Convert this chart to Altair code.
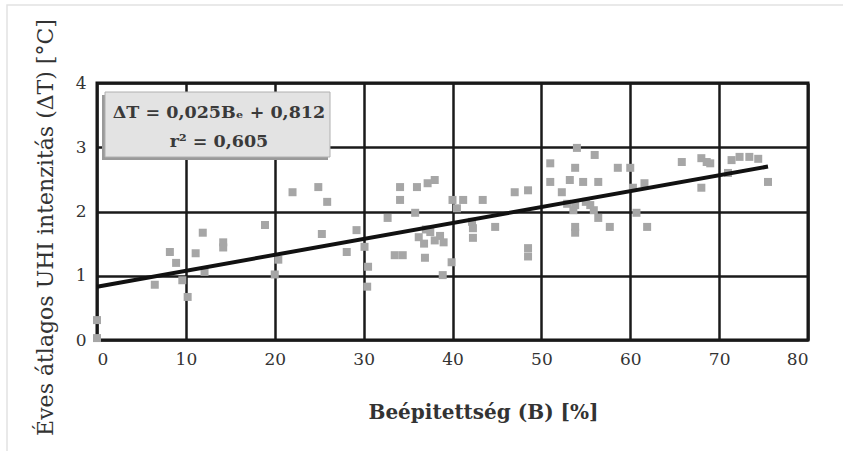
import altair as alt
import pandas as pd

# Scatter data: built-up ratio B [%] and annual mean UHI intensity dT [°C]
b_values = [0, 0, 6.5, 8.2, 8.9, 9.6, 10.2, 11.1, 11.9, 12.1, 14.2, 14.2, 18.9, 20.4, 20.0,
            22.0, 24.9, 25.9, 25.3, 28.1, 29.2, 30.1, 30.5, 30.4, 33.5, 34.4, 32.7, 34.1, 34.1,
            36.0, 37.2, 38.0, 35.8, 36.2, 36.8, 37.5, 38.0, 38.6, 37.0, 39.0, 36.9, 38.9, 39.9,
            40.0, 41.2, 40.5, 42.2, 42.3, 42.3, 43.4, 44.8, 47.0, 48.5, 48.5, 48.5, 51.0, 51.0,
            54.0, 56.0, 53.8, 53.2, 54.7, 56.4, 52.3, 52.9, 53.8, 55.0, 55.5, 53.6, 55.9, 53.8,
            53.8, 56.4, 57.7, 58.6, 60.0, 60.7, 61.9, 60.3, 61.6, 65.8, 68.0, 68.6, 69.0, 68.0,
            71.0, 71.4, 72.3, 73.4, 74.4, 75.5]
dt_values = [0.31, 0.03, 0.86, 1.37, 1.20, 0.93, 0.67, 1.35, 1.67, 1.06, 1.52, 1.44, 1.79, 1.25, 1.02,
             2.30, 2.38, 2.15, 1.65, 1.37, 1.71, 1.45, 1.14, 0.83, 1.32, 1.32, 1.90, 2.38, 2.18,
             2.38, 2.44, 2.49, 1.98, 1.60, 1.50, 1.68, 1.55, 1.62, 1.72, 1.52, 1.28, 1.01, 1.21,
             2.18, 2.18, 2.05, 1.84, 1.74, 1.59, 2.18, 1.76, 2.30, 2.33, 1.43, 1.30, 2.75, 2.46,
             2.99, 2.88, 2.68, 2.49, 2.46, 2.46, 2.30, 2.12, 2.10, 2.15, 2.10, 2.02, 2.02, 1.76,
             1.67, 1.90, 1.76, 2.68, 2.68, 1.98, 1.76, 2.37, 2.44, 2.77, 2.83, 2.77, 2.75, 2.37,
             2.60, 2.80, 2.85, 2.85, 2.82, 2.46]

# Trend line end points
trend_b = [0, 75.5]
trend_dt = [0.83, 2.70]

x_ticks = [0, 10, 20, 30, 40, 50, 60, 70, 80]
y_ticks = [0, 1, 2, 3, 4]

eq_line1 = "ΔT = 0,025Bₑ + 0,812"
eq_line2 = "r² = 0,605"
x_title = "Beépitettség (B) [%]"
y_title = "Éves átlagos UHI intenzitás (ΔT) [°C]"

FONT = "DejaVu Serif"

pts = pd.DataFrame({"B": b_values, "dT": dt_values})
trend = pd.DataFrame({"B": trend_b, "dT": trend_dt})

xscale = alt.Scale(domain=[0, 80], nice=False, zero=False)
yscale = alt.Scale(domain=[0, 4], nice=False, zero=False)

xaxis = alt.Axis(values=x_ticks, format="d", title=x_title, grid=True, gridColor="#1a1a1a",
                 gridWidth=2.5, domain=False, ticks=False, labelFont=FONT, labelFontSize=17,
                 labelColor="#333", labelPadding=11, titleFont=FONT, titleFontSize=20,
                 titleFontWeight="bold", titleColor="#333", titleX=386, titleY=72,
                 titleBaseline="middle", titleAlign="center")
yaxis = alt.Axis(values=y_ticks, format="d", title=y_title, grid=True, gridColor="#1a1a1a",
                 gridWidth=2.5, domain=False, ticks=False, labelFont=FONT, labelFontSize=17,
                 labelColor="#333", labelPadding=11, titleFont=FONT, titleFontSize=22,
                 titleFontWeight="normal", titleColor="#333", titleAngle=-90, titleX=-52,
                 titleY=144, titleBaseline="middle", titleAlign="center")

points = alt.Chart(pts).mark_square(size=64, color="#a6a6a6", opacity=1).encode(
    x=alt.X("B:Q", scale=xscale, axis=xaxis),
    y=alt.Y("dT:Q", scale=yscale, axis=yaxis),
)

line = alt.Chart(trend).mark_line(color="#111", strokeWidth=4).encode(
    x=alt.X("B:Q", scale=xscale),
    y=alt.Y("dT:Q", scale=yscale),
)

anno = pd.DataFrame({"l1": [eq_line1], "l2": [eq_line2]})
shadow = alt.Chart(anno).mark_rect(fill="#9a9a9a").encode(
    x=alt.value(5), x2=alt.value(231), y=alt.value(12), y2=alt.value(77))
box = alt.Chart(anno).mark_rect(fill="#e3e3e3", stroke="#b0b0b0", strokeWidth=1).encode(
    x=alt.value(8), x2=alt.value(233), y=alt.value(9), y2=alt.value(74))
t1 = alt.Chart(anno).mark_text(font=FONT, fontSize=17.5, fontWeight="bold", color="#3a3a3a").encode(
    x=alt.value(122), y=alt.value(30), text="l1:N")
t2 = alt.Chart(anno).mark_text(font=FONT, fontSize=17.5, fontWeight="bold", color="#3a3a3a").encode(
    x=alt.value(122), y=alt.value(59), text="l2:N")

frame = alt.Chart(anno).mark_rect(fill=None, stroke="#e2e2e2", strokeWidth=1.5).encode(
    x=alt.value(-90), x2=alt.value(800), y=alt.value(-78), y2=alt.value(420))

chart = alt.layer(frame, points, line, shadow, box, t1, t2).properties(
    width=711, height=257,
    autosize=alt.AutoSizeParams(type="none"),
    padding={"left": 97, "top": 83, "right": 35, "bottom": 111},
    background="white",
).configure_view(stroke="#111", strokeWidth=3)

chart.save("out.html", embed_options={"renderer": "svg", "actions": False})
